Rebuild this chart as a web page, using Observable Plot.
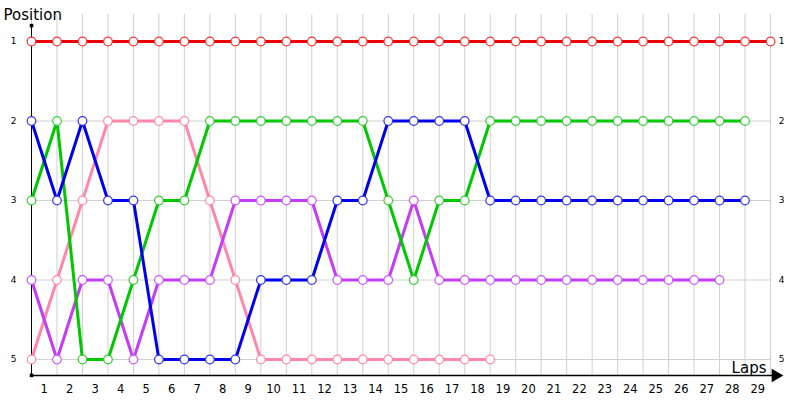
<!DOCTYPE html>
<html>
<head>
<meta charset="utf-8">
<script src="https://cdn.jsdelivr.net/npm/d3@7"></script>
<script src="https://cdn.jsdelivr.net/npm/@observablehq/plot@0.6"></script>
<style>
  html, body { margin: 0; padding: 0; background: #fff; }
  svg { display: block; }
</style>
</head>
<body>
<div id="chart"></div>
<script>
// Lap index 0..29 (point positions), positions per series
const laps = d3.range(0, 30);
const lapLabels = d3.range(1, 30);
const positions = [1, 2, 3, 4, 5];

const redPos    = [1,1,1,1,1,1,1,1,1,1,1,1,1,1,1,1,1,1,1,1,1,1,1,1,1,1,1,1,1,1];
const bluePos   = [2,3,2,3,3,5,5,5,5,4,4,4,3,3,2,2,2,2,3,3,3,3,3,3,3,3,3,3,3];
const greenPos  = [3,2,5,5,4,3,3,2,2,2,2,2,2,2,3,4,3,3,2,2,2,2,2,2,2,2,2,2,2];
const pinkPos   = [5,4,3,2,2,2,2,3,4,5,5,5,5,5,5,5,5,5,5];
const purplePos = [4,5,4,4,5,4,4,4,3,3,3,3,4,4,4,3,4,4,4,4,4,4,4,4,4,4,4,4];

const seriesNames  = ["Driver E", "Driver D", "Driver C", "Driver B", "Driver A"];
const seriesValues = [pinkPos, purplePos, greenPos, bluePos, redPos];
const lineColors   = ["#ff88aa", "#c43cf5", "#00c800", "#0000ee", "#ee0000"];
const markColors   = ["#ff88aa", "#cc55ff", "#33cc33", "#3333ee", "#ff3333"];

const rows = seriesNames.flatMap((s, k) => seriesValues[k].map((p, i) => ({series: s, lap: i, pos: p})));

const FONT = "DejaVu Sans, Verdana, sans-serif";

const chart = Plot.plot({
  width: 800,
  height: 400,
  marginLeft: 31,
  marginRight: 30,
  marginTop: 41,
  marginBottom: 41,
  style: {fontFamily: FONT, background: "#fff"},
  x: {domain: [0, 29], axis: null},
  y: {domain: [1, 5], reverse: true, axis: null},
  color: {domain: seriesNames, range: lineColors},
  marks: [
    // grid
    Plot.ruleY(positions, {y: d => d, x1: 0, x2: 29, stroke: "#d0d0d0", strokeWidth: 1}),
    Plot.ruleX(laps, {x: d => d, y1: 0.66, y2: 5.2, stroke: "#d0d0d0", strokeWidth: 1}),
    // axes
    Plot.ruleX([0], {x: d => d, y1: 0.8, y2: 5.2, stroke: "#000", strokeWidth: 1}),
    Plot.ruleY([5.2], {y: d => d, x1: 0, x2: 29.15, stroke: "#000", strokeWidth: 1.5}),
    Plot.dot([0], {x: d => d, y: 0.8, r: 2, fill: "#000", symbol: "square"}),
    Plot.dot([0], {x: d => d, y: 5.2, r: 2, fill: "#000", symbol: "square"}),
    Plot.dot([29.2], {x: d => d, y: 5.2, r: 5, fill: "#000", symbol: "triangle", rotate: 90}),
    // lines
    Plot.line(rows, {x: "lap", y: "pos", z: "series", stroke: "series", strokeWidth: 3, curve: "linear"}),
    Plot.dot(rows, {x: "lap", y: "pos", r: 4.3, fill: "#fff",
      stroke: d => markColors[seriesNames.indexOf(d.series)], strokeWidth: 1.2}),
    // tick labels
    Plot.text(lapLabels, {x: d => d - 0.5, y: 5, dy: 30, text: d => String(d), fontSize: 11.5, fill: "#000"}),
    Plot.text(positions, {x: 0, y: d => d, dx: -18, text: d => String(d), fontSize: 9, fill: "#000"}),
    Plot.text(positions, {x: 29, y: d => d, dx: 11, text: d => String(d), fontSize: 9, fill: "#000"}),
    // axis titles
    Plot.text(["Position"], {frameAnchor: "top-left", dx: -28, dy: -32, text: d => d, fontSize: 15, fill: "#000"}),
    Plot.text(["Laps"], {frameAnchor: "bottom-right", dx: -4, dy: 13, text: d => d, fontSize: 15, fill: "#000", textAnchor: "end"})
  ]
});
document.getElementById("chart").appendChild(chart);
</script>
</body>
</html>
